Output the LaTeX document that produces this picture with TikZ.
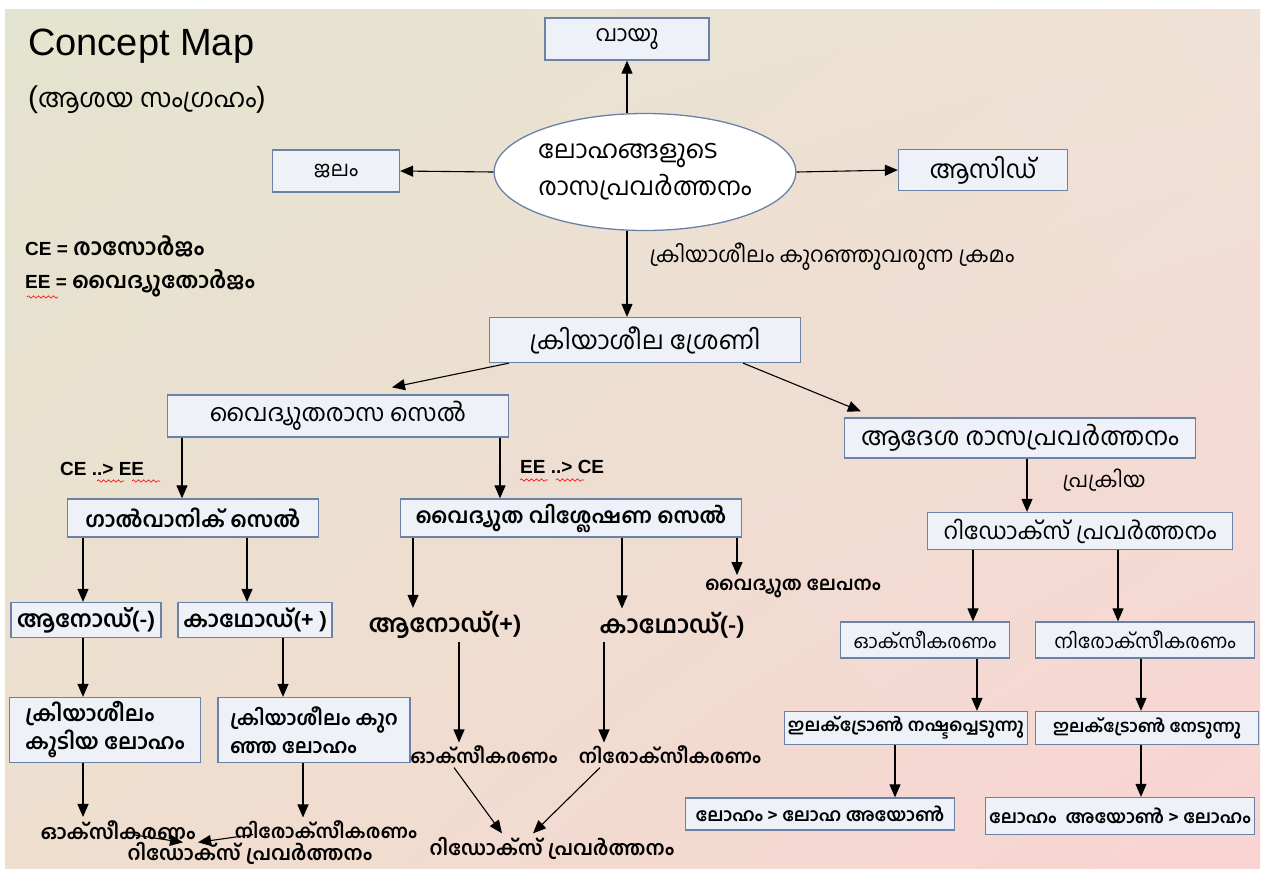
\documentclass[tikz,border=0pt]{standalone}
\usepackage{fontspec}
\setmainfont{Liberation Sans}
\newfontfamily\mal[Script=Malayalam]{Hind Kochi}
\usetikzlibrary{arrows.meta,shapes.geometric,shadings,decorations.pathmorphing}
\definecolor{bxline}{HTML}{6A82A8}
\definecolor{bxfill}{HTML}{EEF1F8}
\definecolor{bgtl}{HTML}{E3E4CF}
\definecolor{bgtr}{HTML}{EFE1D5}
\definecolor{bgbl}{HTML}{EEDFCF}
\definecolor{bgbr}{HTML}{F9D4D2}
\tikzset{
  bx/.style={draw=bxline,fill=bxfill,line width=1.3pt,inner sep=0pt},
  arr/.style={-{Stealth[inset=0pt,length=13pt,width=11pt]},line width=1.1pt},
  ms/.style={font=\mal\fontsize{#1}{#1}\selectfont},
  mb/.style={font=\mal\bfseries\fontsize{#1}{#1}\selectfont},
  wavy/.style={draw=red,line width=.6pt,decorate,decoration={snake,amplitude=1.2pt,segment length=5pt}}
}
\begin{document}
\begin{tikzpicture}[x=1pt,y=-1pt]
\fill[white] (0,0) rectangle (1263,871);
\useasboundingbox (0,0) rectangle (1263,871);
\shade[upper left=bgtl,upper right=bgtr,lower left=bgbl,lower right=bgbr] (5,9) rectangle (1260,868);
%
\node[anchor=west,font=\fontsize{38}{40}\selectfont,inner sep=0pt] (title) at (28,46) {Concept Map};
\node[anchor=west,inner sep=0pt] (subtitle) at (28,100) {\fontsize{30}{32}\selectfont(\mal\fontsize{26}{30}\selectfont ആശയ സംഗ്രഹം\fontsize{30}{32}\selectfont)};
\node[anchor=west,font=\bfseries\fontsize{19}{22}\selectfont,inner sep=0pt] (ce) at (25,246) {CE = {\mal\fontsize{23}{26}\selectfont രാസോർജം}};
\node[anchor=west,font=\bfseries\fontsize{19}{22}\selectfont,inner sep=0pt] (ee) at (25,283) {EE = {\mal\fontsize{22}{26}\selectfont വൈദ്യുതോർജം}};
\draw[wavy] (27,297) -- (58,297);
%
\node[bx,minimum width=164,minimum height=42,ms=22] (vayu) at (627,39) {വായു};
\node[ellipse,draw=bxline,fill=white,line width=1.3pt,minimum width=274,minimum height=117,inner sep=0pt,font=\mal\fontsize{25}{37}\selectfont,align=left] (metal) at (645,172) {ലോഹങ്ങളുടെ\\രാസപ്രവർത്തനം};
\node[bx,minimum width=127,minimum height=42,ms=21] (jalam) at (336,171) {ജലം};
\node[bx,minimum width=169,minimum height=41,ms=25] (acid) at (983,170) {ആസിഡ്};
\node[anchor=west,ms=21.5] (order) at (646,257) {ക്രിയാശീലം കുറഞ്ഞുവരുന്ന ക്രമം};
\node[bx,minimum width=311,minimum height=45,ms=25] (series) at (645,340) {ക്രിയാശീല ശ്രേണി};
%
\node[bx,minimum width=341,minimum height=42,ms=24] (eccell) at (338,416) {വൈദ്യുതരാസ സെൽ};
\node[bx,minimum width=351,minimum height=40,ms=25] (displ) at (1020,438) {ആദേശ രാസപ്രവർത്തനം};
\node[ms=21] (process) at (1104,480) {പ്രക്രിയ};
\node[bx,minimum width=305,minimum height=37,ms=23] (redox) at (1080,531) {റിഡോക്സ് പ്രവർത്തനം};
\node[bx,minimum width=169,minimum height=36,ms=19] (oxbox) at (925,640) {ഓക്സീകരണം};
\node[bx,minimum width=219,minimum height=36,ms=19.5] (redbox) at (1145,640) {നിരോക്സീകരണം};
\node[bx,minimum width=243,minimum height=33,mb=17.5] (eloss) at (906,728) {ഇലക്ട്രോൺ നഷ്ടപ്പെടുന്നു};
\node[bx,minimum width=223,minimum height=33,mb=17] (egain) at (1147,728) {ഇലക്ട്രോൺ നേടുന്നു};
\node[bx,minimum width=269,minimum height=32,mb=18] (toion) at (820,814) {ലോഹം > ലോഹ അയോൺ};
\node[bx,minimum width=269,minimum height=37,mb=18] (tometal) at (1120,816) {ലോഹം\ \ അയോൺ > ലോഹം};
%
\node[anchor=west,font=\bfseries\fontsize{19}{22}\selectfont,inner sep=0pt] (cetoee) at (60,469) {CE ..> EE};
\draw[wavy] (97,481) -- (124,481);
\draw[wavy] (132,481) -- (160,481);
\node[anchor=west,font=\bfseries\fontsize{19}{22}\selectfont,inner sep=0pt] (eetoce) at (520,467) {EE ..> CE};
\draw[wavy] (520,480) -- (548,480);
\draw[wavy] (556,480) -- (584,480);
\node[bx,minimum width=251,minimum height=38,mb=21.5] (galv) at (193,518) {ഗാൽവാനിക് സെൽ};
\node[bx,minimum width=341,minimum height=38,mb=21.2] (elys) at (571,518) {വൈദ്യുത വിശ്ലേഷണ സെൽ};
\node[bx,minimum width=150,minimum height=35,mb=23] (anodeg) at (86,620) {ആനോഡ്(-)};
\node[bx,minimum width=154,minimum height=35,mb=22.5] (cathg) at (255,620) {കാഥോഡ്(+ )};
\node[bx,minimum width=191,minimum height=65,font=\mal\bfseries\fontsize{21.5}{28}\selectfont,align=left] (active) at (105,730) {ക്രിയാശീലം\\കൂടിയ ലോഹം};
\node[bx,minimum width=192,minimum height=65,font=\mal\bfseries\fontsize{20}{28}\selectfont,align=left] (passive) at (314,730) {ക്രിയാശീലം കുറ\\ഞ്ഞ ലോഹം};
\node[mb=20] (oxg) at (118,830) {ഓക്സീകരണം};
\node[mb=19] (redg) at (326,830) {നിരോക്സീകരണം};
\node[mb=20] (redoxg) at (250,853) {റിഡോക്സ് പ്രവർത്തനം};
\node[mb=24.5] (anodee) at (445,625) {ആനോഡ്(+)};
\node[mb=24.5] (cathe) at (672,625) {കാഥോഡ്(-)};
\node[mb=19] (plating) at (793,588) {വൈദ്യുത ലേപനം};
\node[mb=19] (oxe) at (484,755) {ഓക്സീകരണം};
\node[mb=19] (rede) at (670,755) {നിരോക്സീകരണം};
\node[mb=20] (redoxe) at (552,848) {റിഡോക്സ് പ്രവർത്തനം};
%
\draw[arr] ([xshift=-18pt]metal.north) -- (vayu.south);
\draw[arr] (metal.west) -- (jalam.east);
\draw[arr] (metal.east) -- (acid.west);
\draw[arr] ([xshift=-18pt]metal.south) -- ([xshift=-18pt]series.north);
\draw[arr] ([xshift=20pt]series.south west) -- ([xshift=54pt,yshift=7pt]eccell.north);
\draw[arr] ([xshift=-58pt]series.south east) -- ([xshift=17pt,yshift=6pt]displ.north west);
\draw[arr] ([xshift=7pt]displ.south) -- ([xshift=-53pt]redox.north);
\draw[arr] ([xshift=-107pt]redox.south) -- ([xshift=48pt]oxbox.north);
\draw[arr] ([xshift=38pt]redox.south) -- ([xshift=-27pt]redbox.north);
\draw[arr] ([xshift=52pt]oxbox.south) -- ([xshift=71pt]eloss.north);
\draw[arr] ([xshift=-4pt]redbox.south) -- ([xshift=-6pt]egain.north);
\draw[arr] ([xshift=-11pt]eloss.south) -- ([xshift=75pt]toion.north);
\draw[arr] ([xshift=-6pt]egain.south) -- ([xshift=21pt]tometal.north);
%
\draw[arr] ([xshift=-156pt]eccell.south) -- ([xshift=-11pt]galv.north);
\draw[arr] ([xshift=162pt]eccell.south) -- ([xshift=-71pt]elys.north);
\draw[arr] ([xshift=-110pt]galv.south) -- ([xshift=-3pt]anodeg.north);
\draw[arr] ([xshift=54pt]galv.south) -- ([xshift=-8pt]cathg.north);
\draw[arr] ([xshift=-3pt]anodeg.south) -- ([xshift=-22pt]active.north);
\draw[arr] ([xshift=28pt]cathg.south) -- ([xshift=-31pt]passive.north);
\draw[arr] ([xshift=-22pt]active.south) -- ([xshift=-35pt]oxg.north);
\draw[arr] ([xshift=-11pt]passive.south) -- ([xshift=-23pt]redg.north);
\draw[arr] ([xshift=17pt,yshift=8pt]oxg.south) -- ([xshift=-67pt,yshift=-4pt]redoxg.north);
\draw[arr] ([xshift=-73pt,yshift=8pt]redg.south) -- ([xshift=-52pt,yshift=-4pt]redoxg.north);
%
\draw[arr] ([xshift=-158pt]elys.south) -- ([xshift=-32pt]anodee.north);
\draw[arr] ([xshift=51pt]elys.south) -- ([xshift=-50pt]cathe.north);
\draw[arr] ([xshift=166pt]elys.south) -- ([xshift=-56pt]plating.north);
\draw[arr] ([xshift=14pt]anodee.south) -- ([xshift=-25pt]oxe.north);
\draw[arr] ([xshift=-68pt]cathe.south) -- ([xshift=-66pt]rede.north);
\draw[arr] ([xshift=-30pt]oxe.south) -- ([xshift=-50pt]redoxe.north);
\draw[arr] ([xshift=-70pt]rede.south) -- ([xshift=-19pt]redoxe.north);
\end{tikzpicture}
\end{document}
